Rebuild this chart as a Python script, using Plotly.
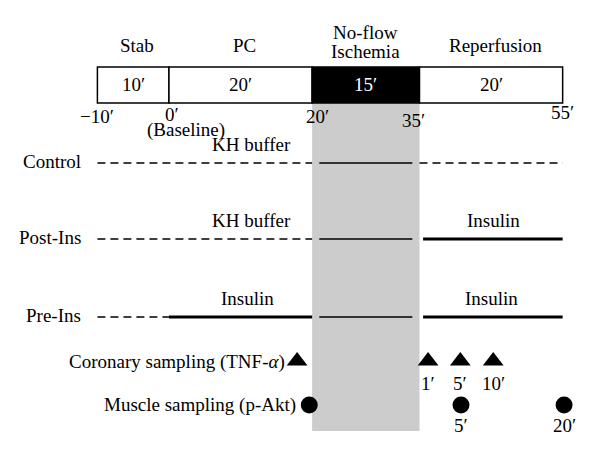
import plotly.graph_objects as go

# ---- data ----
phase_names = ["Stab", "PC", "No-flow", "Reperfusion"]
phase_start = [-10, 0, 20, 35]
phase_end = [0, 20, 35, 55]
phase_durations = ["10′", "20′", "15′", "20′"]
tick_times = [-10, 0, 20, 35, 55]
tick_labels = ["−10′", "0′", "20′", "35′", "55′"]

groups = ["Control", "Post-Ins", "Pre-Ins"]
# segments: (start, end, style)   style: dash / thin / thick
group_segments = {
    "Control": [(-10, 20, "dash"), (21, 34, "thin"), (35, 55, "dash")],
    "Post-Ins": [(-10, 20, "dash"), (21, 34, "thin"), (35.5, 55, "thick")],
    "Pre-Ins": [(-10, 0, "dash"), (0, 20, "thick"), (21, 34, "thin"), (35.5, 55, "thick")],
}
# treatment labels: (time centre, text)
group_treatments = {
    "Control": [(11.5, "KH buffer")],
    "Post-Ins": [(11.5, "KH buffer"), (45.3, "Insulin")],
    "Pre-Ins": [(10.9, "Insulin"), (45, "Insulin")],
}

coronary_times = [17.9, 36.2, 40.7, 45.3]
coronary_labels = ["", "1′", "5′", "10′"]
muscle_times = [19.6, 40.8, 55.2]
muscle_labels = ["", "5′", "20′"]

# ---- layout constants ----
FONT = "Liberation Serif"
FS = 19
BAR_TOP, BAR_BOT = 67, 103
ROW_Y = {"Control": 163, "Post-Ins": 239, "Pre-Ins": 317}
COR_Y, MUS_Y = 361, 405
BAND_BOT = 431

fig = go.Figure()
shapes = []
ann = []

def text(x, y, s, size=FS, color="black", xanchor="center", xshift=0):
    ann.append(dict(x=x, y=y, text=s, showarrow=False, xref="x", yref="y",
                    xanchor=xanchor, yanchor="middle", xshift=xshift,
                    font=dict(family=FONT, size=size, color=color)))

# gray ischemia band
shapes.append(dict(type="rect", xref="x", yref="y", x0=phase_start[2], x1=phase_end[2],
                   y0=BAR_BOT, y1=BAND_BOT, fillcolor="#cccccc", line=dict(width=0), layer="below"))

# timeline bar
for i, (n, s, e, d) in enumerate(zip(phase_names, phase_start, phase_end, phase_durations)):
    black = (n == "No-flow")
    shapes.append(dict(type="rect", xref="x", yref="y", x0=s, x1=e, y0=BAR_TOP, y1=BAR_BOT,
                       fillcolor="black" if black else "white", line=dict(color="black", width=1.5)))
    text((s + e) / 2, (BAR_TOP + BAR_BOT) / 2 - 1, d, color="white" if black else "black")
    if black:
        text((s + e) / 2, 32, "No-flow")
        text((s + e) / 2, 51, "Ischemia")
    else:
        text((s + e) / 2 + 0.6, 45, n)

# time tick labels
tick_y = [116, 114, 116, 120, 112]
tick_shift = [0, 3, 5, -6, 0]
for t, lab, yy, sh in zip(tick_times, tick_labels, tick_y, tick_shift):
    text(t, yy, lab, xshift=sh)
text(2.4, 130, "(Baseline)")

# group rows
styles = {"dash": dict(width=1.5, dash="8px,5px"), "thin": dict(width=1.5), "thick": dict(width=3.2)}
for g in groups:
    y = ROW_Y[g]
    for s, e, st in group_segments[g]:
        fig.add_trace(go.Scatter(x=[s, e], y=[y, y], mode="lines",
                                 line=dict(color="black", **styles[st]),
                                 hoverinfo="skip", showlegend=False))
    text(-12.0, y - 2, g, xanchor="right")
    for t, s in group_treatments[g]:
        text(t, y - 19, s)

# sampling markers
fig.add_trace(go.Scatter(x=coronary_times, y=[COR_Y] * len(coronary_times), mode="markers",
                         marker=dict(symbol="triangle-up", size=18, color="black"),
                         showlegend=False, hoverinfo="skip"))
fig.add_trace(go.Scatter(x=muscle_times, y=[MUS_Y] * len(muscle_times), mode="markers",
                         marker=dict(symbol="circle", size=17, color="black"),
                         showlegend=False, hoverinfo="skip"))
text(coronary_times[0], COR_Y + 1, "Coronary sampling (TNF-<i>α</i>)", xanchor="right", xshift=-10)
text(muscle_times[0], MUS_Y, "Muscle sampling (p-Akt)", xanchor="right", xshift=-11)
for t, lab in zip(coronary_times, coronary_labels):
    if lab:
        text(t, COR_Y + 22, lab)
for t, lab in zip(muscle_times, muscle_labels):
    if lab:
        text(t, MUS_Y + 20, lab)

# page body has an 8px margin: size/range chosen so marks land where the reference has them
fig.update_layout(
    width=584, height=441,
    margin=dict(l=0, r=0, t=0, b=0),
    paper_bgcolor="white", plot_bgcolor="white",
    shapes=shapes, annotations=ann,
    xaxis=dict(range=[-22.49, 59.10], visible=False, fixedrange=True),
    yaxis=dict(range=[449, 8], visible=False, fixedrange=True),
    showlegend=False,
)
fig.write_html("out.html")
